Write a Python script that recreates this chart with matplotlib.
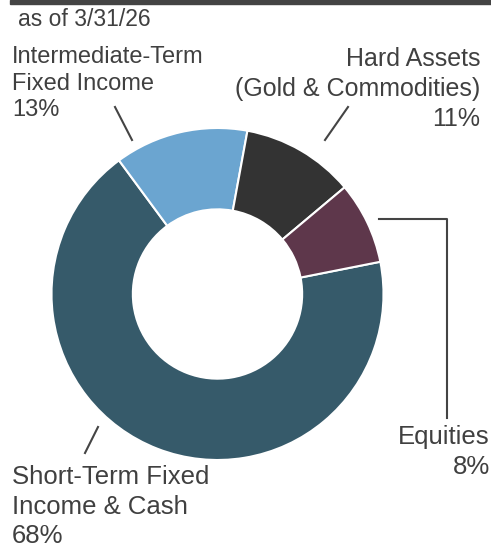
import matplotlib.pyplot as plt
from matplotlib.patches import Rectangle
from matplotlib.lines import Line2D

plt.rcParams['font.family'] = ['Liberation Sans', 'DejaVu Sans']

# data
labels = ['Short-Term Fixed\nIncome & Cash', 'Intermediate-Term\nFixed Income',
          'Hard Assets\n(Gold & Commodities)', 'Equities']
shares = [68, 13, 11, 8]
colors = ['#365a6a', '#6ba5d0', '#333333', '#5e374b']
as_of = 'as of 3/31/26'

W, H = 491, 551
txt = '#404040'

fig = plt.figure(figsize=(W / 100, H / 100), dpi=100)


def fx(px):
    return px / W


def fy(py):
    return 1 - py / H


# donut
cx, cy, r = 217.5, 294, 166
ax = fig.add_axes([fx(cx - r), fy(cy + r), 2 * r / W, 2 * r / H])
ax.pie(shares, colors=colors, startangle=11.2, counterclock=False,
       wedgeprops=dict(width=0.49, edgecolor='white', linewidth=1.5))
ax.set_xlim(-1, 1)
ax.set_ylim(-1, 1)
ax.axis('off')

# top rule
fig.patches.append(Rectangle((fx(10), fy(4)), fx(491) - fx(10), 4 / H,
                             transform=fig.transFigure, color='#444444'))
fig.text(fx(18), fy(19), as_of, fontsize=16.5, color=txt, va='center')

# labels
pct = [f'{s}%' for s in shares]
fig.text(fx(12), fy(46), labels[1] + '\n' + pct[1], fontsize=17, color=txt,
         va='top', ha='left', linespacing=1.27)
fig.text(fx(480), fy(47), labels[2] + '\n' + pct[2], fontsize=18, color=txt,
         va='top', ha='right', multialignment='right', linespacing=1.32)
fig.text(fx(490), fy(425), labels[3] + '\n' + pct[3], fontsize=18.5, color=txt,
         va='top', ha='right', multialignment='right', linespacing=1.33)
fig.text(fx(12), fy(465), labels[0] + '\n' + pct[0], fontsize=18.5, color=txt,
         va='top', ha='left', linespacing=1.3)

# leader lines
leaders = [
    ([115, 132], [107, 140]),
    ([348, 325], [107, 140]),
    ([379, 447, 447], [219, 219, 418]),
    ([98, 85], [427, 453]),
]
for xs, ys in leaders:
    fig.lines.append(Line2D([fx(x) for x in xs], [fy(y) for y in ys],
                            transform=fig.transFigure, color='#444444', lw=1.5))

fig.savefig('out.png', dpi=100)
